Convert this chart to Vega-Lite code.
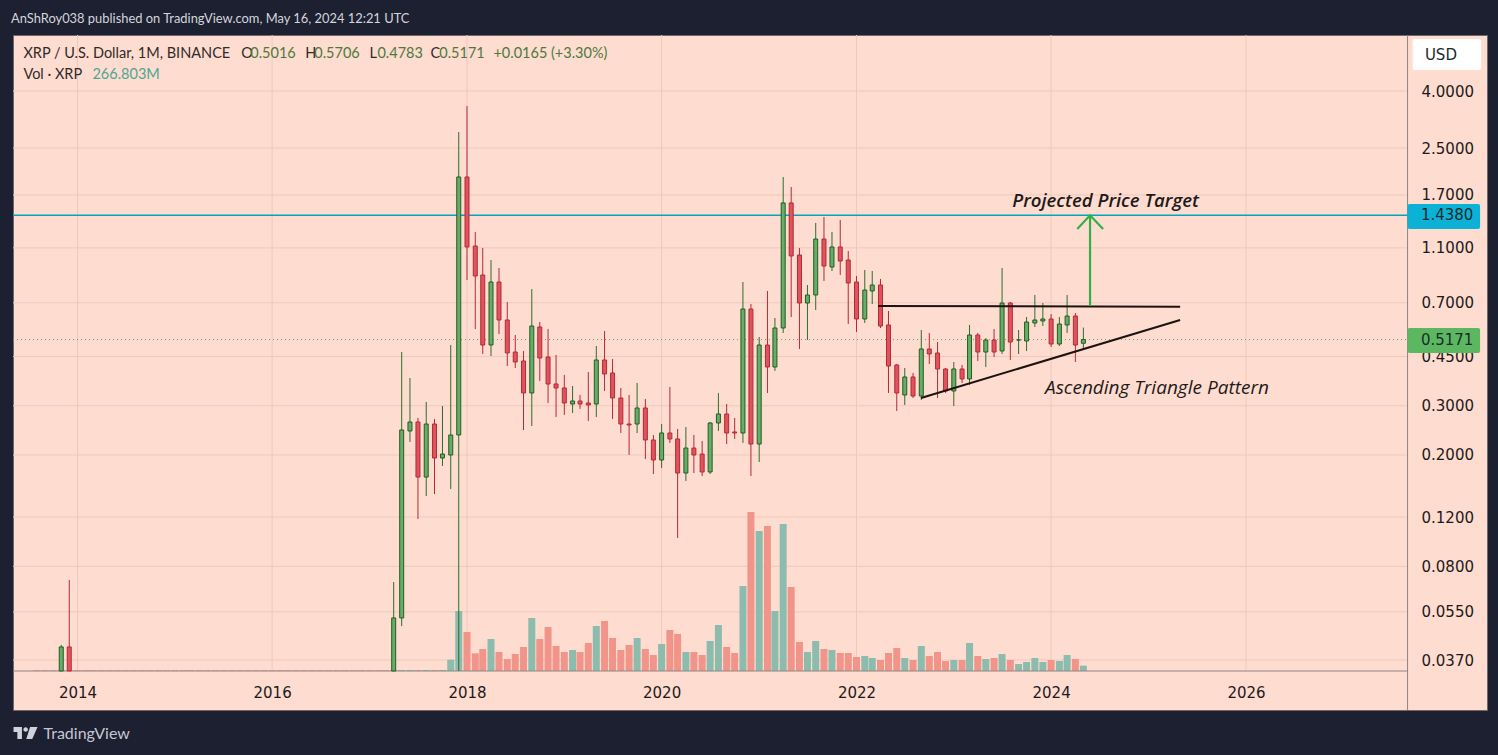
{
  "$schema": "https://vega.github.io/schema/vega-lite/v6.json",
  "autosize": {"type": "none"},
  "width": 1474,
  "height": 675,
  "padding": {"left": 13, "top": 35, "right": 11, "bottom": 45},
  "background": "#1c2030",
  "title": {"text": "AnShRoy038 published on TradingView.com, May 16, 2024 12:21 UTC", "anchor": "start", "frame": "group", "offset": 9, "dx": -2, "font": "Lato", "fontSize": 12.9, "fontWeight": "normal", "color": "#d3d5db"},
  "config": {"view": {"fill": "#fedccf", "stroke": "#6e6a6c"}},
  "datasets": {
    "candles": [
      {"date":"2013-08-01","volume":40},{"date":"2013-09-01","volume":40},{"date":"2013-10-01","volume":40},
      {"date":"2013-11-01","open":0.0338,"high":0.0419,"low":0.0338,"close":0.0412,"volume":50},
      {"date":"2013-12-01","open":0.0412,"high":0.0715,"low":0.0338,"close":0.0338,"volume":50},
      {"date":"2014-01-01","volume":40},{"date":"2014-02-01","volume":40},{"date":"2014-03-01","volume":40},{"date":"2014-04-01","volume":40},{"date":"2014-05-01","volume":40},{"date":"2014-06-01","volume":40},{"date":"2014-07-01","volume":40},{"date":"2014-08-01","volume":40},{"date":"2014-09-01","volume":40},{"date":"2014-10-01","volume":40},{"date":"2014-11-01","volume":40},{"date":"2014-12-01","volume":40},
      {"date":"2015-01-01","volume":40},{"date":"2015-02-01","volume":40},{"date":"2015-03-01","volume":40},{"date":"2015-04-01","volume":40},{"date":"2015-05-01","volume":40},{"date":"2015-06-01","volume":40},{"date":"2015-07-01","volume":40},{"date":"2015-08-01","volume":40},{"date":"2015-09-01","volume":40},{"date":"2015-10-01","volume":40},{"date":"2015-11-01","volume":40},{"date":"2015-12-01","volume":40},
      {"date":"2016-01-01","volume":40},{"date":"2016-02-01","volume":40},{"date":"2016-03-01","volume":40},{"date":"2016-04-01","volume":40},{"date":"2016-05-01","volume":40},{"date":"2016-06-01","volume":40},{"date":"2016-07-01","volume":40},{"date":"2016-08-01","volume":40},{"date":"2016-09-01","volume":40},{"date":"2016-10-01","volume":40},{"date":"2016-11-01","volume":40},{"date":"2016-12-01","volume":40},
      {"date":"2017-01-01","volume":40},{"date":"2017-02-01","volume":40},{"date":"2017-03-01","volume":40},
      {"date":"2017-04-01","open":0.0338,"high":0.0703,"low":0.0338,"close":0.0523,"volume":50},
      {"date":"2017-05-01","open":0.0523,"high":0.4668,"low":0.0489,"close":0.2457,"volume":50},
      {"date":"2017-06-01","open":0.2437,"high":0.3769,"low":0.2226,"close":0.2624,"volume":50},
      {"date":"2017-07-01","open":0.2624,"high":0.2712,"low":0.1181,"close":0.1668,"volume":50},
      {"date":"2017-08-01","open":0.1668,"high":0.3094,"low":0.1427,"close":0.2581,"volume":50},
      {"date":"2017-09-01","open":0.2581,"high":0.269,"low":0.1451,"close":0.1951,"volume":50},
      {"date":"2017-10-01","open":0.1951,"high":0.2993,"low":0.1827,"close":0.2016,"volume":50},
      {"date":"2017-11-01","open":0.2,"high":0.4945,"low":0.1512,"close":0.2358,"volume":565},
      {"date":"2017-12-01","open":0.2358,"high":2.854,"low":0.0338,"close":1.971,"volume":3000},
      {"date":"2018-01-01","open":1.971,"high":3.535,"low":0.8443,"close":1.108,"volume":1950},
      {"date":"2018-02-01","open":1.117,"high":1.254,"low":0.5641,"close":0.8726,"volume":885},
      {"date":"2018-03-01","open":0.8798,"high":1.099,"low":0.4592,"close":0.4945,"volume":1100},
      {"date":"2018-04-01","open":0.4945,"high":0.9953,"low":0.4517,"close":0.8305,"volume":1600},
      {"date":"2018-05-01","open":0.8305,"high":0.932,"low":0.5414,"close":0.6075,"volume":950},
      {"date":"2018-06-01","open":0.6075,"high":0.7045,"low":0.416,"close":0.463,"volume":600},
      {"date":"2018-07-01","open":0.4668,"high":0.5369,"low":0.4092,"close":0.4299,"volume":850},
      {"date":"2018-08-01","open":0.4335,"high":0.4707,"low":0.2457,"close":0.3332,"volume":1200},
      {"date":"2018-09-01","open":0.3332,"high":0.784,"low":0.2539,"close":0.5782,"volume":2650},
      {"date":"2018-10-01","open":0.5735,"high":0.5976,"low":0.3677,"close":0.4443,"volume":1600},
      {"date":"2018-11-01","open":0.448,"high":0.5641,"low":0.3068,"close":0.3588,"volume":2200},
      {"date":"2018-12-01","open":0.3588,"high":0.4555,"low":0.2734,"close":0.3472,"volume":1250},
      {"date":"2019-01-01","open":0.3472,"high":0.3864,"low":0.278,"close":0.3068,"volume":950},
      {"date":"2019-02-01","open":0.3043,"high":0.3529,"low":0.2826,"close":0.3119,"volume":1050},
      {"date":"2019-03-01","open":0.3119,"high":0.3277,"low":0.292,"close":0.3043,"volume":950},
      {"date":"2019-04-01","open":0.3068,"high":0.396,"low":0.2646,"close":0.3018,"volume":1400},
      {"date":"2019-05-01","open":0.3043,"high":0.4905,"low":0.2734,"close":0.4371,"volume":2250},
      {"date":"2019-06-01","open":0.4371,"high":0.5549,"low":0.3387,"close":0.3895,"volume":2500},
      {"date":"2019-07-01","open":0.3928,"high":0.4407,"low":0.269,"close":0.3197,"volume":1650},
      {"date":"2019-08-01","open":0.3197,"high":0.3472,"low":0.2397,"close":0.2581,"volume":1050},
      {"date":"2019-09-01","open":0.2581,"high":0.3277,"low":0.2,"close":0.256,"volume":1300},
      {"date":"2019-10-01","open":0.2581,"high":0.3617,"low":0.2397,"close":0.2945,"volume":1650},
      {"date":"2019-11-01","open":0.2945,"high":0.3171,"low":0.1935,"close":0.2263,"volume":1100},
      {"date":"2019-12-01","open":0.2263,"high":0.2358,"low":0.171,"close":0.1919,"volume":800},
      {"date":"2020-01-01","open":0.1919,"high":0.2581,"low":0.1797,"close":0.2397,"volume":1350},
      {"date":"2020-02-01","open":0.2397,"high":0.35,"low":0.2208,"close":0.2282,"volume":2050},
      {"date":"2020-03-01","open":0.2282,"high":0.2477,"low":0.101,"close":0.1724,"volume":1850},
      {"date":"2020-04-01","open":0.1724,"high":0.2518,"low":0.1615,"close":0.2118,"volume":950},
      {"date":"2020-05-01","open":0.2118,"high":0.2358,"low":0.1724,"close":0.2,"volume":950},
      {"date":"2020-06-01","open":0.2016,"high":0.2244,"low":0.1682,"close":0.1739,"volume":800},
      {"date":"2020-07-01","open":0.1739,"high":0.2624,"low":0.171,"close":0.2603,"volume":1500},
      {"date":"2020-08-01","open":0.2603,"high":0.3332,"low":0.2437,"close":0.2803,"volume":2300},
      {"date":"2020-09-01","open":0.2803,"high":0.3043,"low":0.2189,"close":0.2397,"volume":1200},
      {"date":"2020-10-01","open":0.2417,"high":0.2712,"low":0.2282,"close":0.2397,"volume":900},
      {"date":"2020-11-01","open":0.2397,"high":0.8305,"low":0.2208,"close":0.665,"volume":4250},
      {"date":"2020-12-01","open":0.665,"high":0.693,"low":0.1682,"close":0.2189,"volume":7950},
      {"date":"2021-01-01","open":0.2189,"high":0.5282,"low":0.1888,"close":0.4945,"volume":7000},
      {"date":"2021-02-01","open":0.4945,"high":0.7713,"low":0.3332,"close":0.4126,"volume":7250},
      {"date":"2021-03-01","open":0.4126,"high":0.6175,"low":0.3993,"close":0.5688,"volume":3000},
      {"date":"2021-04-01","open":0.5688,"high":1.971,"low":0.5458,"close":1.592,"volume":7350},
      {"date":"2021-05-01","open":1.592,"high":1.815,"low":0.6226,"close":1.029,"volume":4200},
      {"date":"2021-06-01","open":1.037,"high":1.099,"low":0.4785,"close":0.6987,"volume":1450},
      {"date":"2021-07-01","open":0.6987,"high":0.8103,"low":0.5153,"close":0.7463,"volume":950},
      {"date":"2021-08-01","open":0.7463,"high":1.35,"low":0.6596,"close":1.183,"volume":1500},
      {"date":"2021-09-01","open":1.183,"high":1.418,"low":0.8374,"close":0.9474,"volume":1100},
      {"date":"2021-10-01","open":0.9397,"high":1.254,"low":0.9093,"close":1.108,"volume":1050},
      {"date":"2021-11-01","open":1.108,"high":1.384,"low":0.8798,"close":0.9873,"volume":900},
      {"date":"2021-12-01","open":0.9953,"high":1.072,"low":0.5878,"close":0.8238,"volume":900},
      {"date":"2022-01-01","open":0.8305,"high":0.8726,"low":0.5504,"close":0.6125,"volume":700},
      {"date":"2022-02-01","open":0.6125,"high":0.9167,"low":0.5927,"close":0.7775,"volume":750},
      {"date":"2022-03-01","open":0.7713,"high":0.9093,"low":0.693,"close":0.8103,"volume":650},
      {"date":"2022-04-01","open":0.8103,"high":0.8513,"low":0.5688,"close":0.5782,"volume":550},
      {"date":"2022-05-01","open":0.583,"high":0.6542,"low":0.3332,"close":0.416,"volume":900},
      {"date":"2022-06-01","open":0.4195,"high":0.4229,"low":0.2873,"close":0.3332,"volume":1150},
      {"date":"2022-07-01","open":0.3277,"high":0.4092,"low":0.3018,"close":0.3801,"volume":650},
      {"date":"2022-08-01","open":0.3801,"high":0.3928,"low":0.3197,"close":0.325,"volume":550},
      {"date":"2022-09-01","open":0.325,"high":0.5595,"low":0.3145,"close":0.4785,"volume":1250},
      {"date":"2022-10-01","open":0.4785,"high":0.5458,"low":0.4229,"close":0.4592,"volume":750},
      {"date":"2022-11-01","open":0.463,"high":0.5069,"low":0.3197,"close":0.4059,"volume":950},
      {"date":"2022-12-01","open":0.4059,"high":0.4092,"low":0.3332,"close":0.3387,"volume":500},
      {"date":"2023-01-01","open":0.3387,"high":0.4299,"low":0.2993,"close":0.4059,"volume":550},
      {"date":"2023-02-01","open":0.4059,"high":0.4195,"low":0.3617,"close":0.3739,"volume":550},
      {"date":"2023-03-01","open":0.3739,"high":0.583,"low":0.3558,"close":0.5369,"volume":1400},
      {"date":"2023-04-01","open":0.5369,"high":0.5458,"low":0.4335,"close":0.4668,"volume":750},
      {"date":"2023-05-01","open":0.4668,"high":0.5238,"low":0.4126,"close":0.5153,"volume":600},
      {"date":"2023-06-01","open":0.5153,"high":0.5641,"low":0.448,"close":0.4668,"volume":650},
      {"date":"2023-07-01","open":0.4707,"high":0.932,"low":0.4592,"close":0.6987,"volume":850},
      {"date":"2023-08-01","open":0.6987,"high":0.7045,"low":0.4371,"close":0.5069,"volume":550},
      {"date":"2023-09-01","open":0.5153,"high":0.5595,"low":0.4592,"close":0.5153,"volume":350},
      {"date":"2023-10-01","open":0.5111,"high":0.6226,"low":0.4707,"close":0.5976,"volume":450},
      {"date":"2023-11-01","open":0.5927,"high":0.7463,"low":0.5735,"close":0.6075,"volume":650},
      {"date":"2023-12-01","open":0.6025,"high":0.6987,"low":0.5782,"close":0.6125,"volume":450},
      {"date":"2024-01-01","open":0.6125,"high":0.6383,"low":0.4864,"close":0.4986,"volume":550},
      {"date":"2024-02-01","open":0.4986,"high":0.6226,"low":0.4905,"close":0.5878,"volume":500},
      {"date":"2024-03-01","open":0.583,"high":0.7463,"low":0.5458,"close":0.6278,"volume":800},
      {"date":"2024-04-01","open":0.6278,"high":0.6435,"low":0.4299,"close":0.4945,"volume":600},
      {"date":"2024-05-01","open":0.5016,"high":0.5706,"low":0.4783,"close":0.5171,"volume":266.803}
    ],
    "ticks": [
      {"price":4,"from":"2013-05-04","to":"2027-08-30"},{"price":2.5,"from":"2013-05-04","to":"2027-08-30"},{"price":1.7,"from":"2013-05-04","to":"2027-08-30"},{"price":1.1,"from":"2013-05-04","to":"2027-08-30"},{"price":0.7,"from":"2013-05-04","to":"2027-08-30"},{"price":0.45,"from":"2013-05-04","to":"2027-08-30"},{"price":0.3,"from":"2013-05-04","to":"2027-08-30"},{"price":0.2,"from":"2013-05-04","to":"2027-08-30"},{"price":0.12,"from":"2013-05-04","to":"2027-08-30"},{"price":0.08,"from":"2013-05-04","to":"2027-08-30"},{"price":0.055,"from":"2013-05-04","to":"2027-08-30"},{"price":0.037,"from":"2013-05-04","to":"2027-08-30"}
    ],
    "years": [
      {"date":"2014-01-01","low":0.0338,"high":6.342},{"date":"2016-01-01","low":0.0338,"high":6.342},{"date":"2018-01-01","low":0.0338,"high":6.342},{"date":"2020-01-01","low":0.0338,"high":6.342},{"date":"2022-01-01","low":0.0338,"high":6.342},{"date":"2024-01-01","low":0.0338,"high":6.342},{"date":"2026-01-01","low":0.0338,"high":6.342}
    ],
    "trend": [
      {"series":"resistance","date":"2022-03-23","price":0.682},
      {"series":"resistance","date":"2025-04-29","price":0.678},
      {"series":"support","date":"2022-08-31","price":0.3197},
      {"series":"support","date":"2025-04-29","price":0.6075}
    ],
    "arrow": [
      {"series":"shaft","date":"2024-05-26","price":0.682},
      {"series":"shaft","date":"2024-05-26","price":1.438},
      {"series":"head","date":"2024-04-08","price":1.2845},
      {"series":"head","date":"2024-05-26","price":1.438},
      {"series":"head","date":"2024-07-14","price":1.2845}
    ],
    "target": [
      {"text":"Projected Price Target","date":"2023-08-08","price":1.618}
    ],
    "pattern": [
      {"text":"Ascending Triangle Pattern","date":"2023-12-09","price":0.3472}
    ],
    "legend": [
      {"text":"XRP / U.S. Dollar, 1M, BINANCE","date":"2013-06-12","price":5.425,"role":"name"},
      {"text":"O","date":"2015-09-07","price":5.425,"role":"name"},
      {"text":"0.5016","date":"2015-10-11","price":5.425,"role":"value"},
      {"text":"H","date":"2016-05-04","price":5.425,"role":"name"},
      {"text":"0.5706","date":"2016-06-07","price":5.425,"role":"value"},
      {"text":"L","date":"2016-12-31","price":5.425,"role":"name"},
      {"text":"0.4783","date":"2017-01-30","price":5.425,"role":"value"},
      {"text":"C","date":"2017-08-17","price":5.425,"role":"name"},
      {"text":"0.5171","date":"2017-09-19","price":5.425,"role":"value"},
      {"text":"+0.0165 (+3.30%)","date":"2018-04-10","price":5.425,"role":"value"},
      {"text":"Vol · XRP","date":"2013-06-12","price":4.563,"role":"name"},
      {"text":"266.803M","date":"2014-02-26","price":4.563,"role":"volume"}
    ],
    "tags": [
      {"text":"1.4380","date":"2027-08-30","date2":"2028-05-28","top":1.579,"bottom":1.2845,"price":1.438,"textDate":"2027-10-19","kind":"last"},
      {"text":"0.5171","date":"2027-08-30","date2":"2028-05-28","top":0.5688,"bottom":0.463,"price":0.5171,"textDate":"2027-10-19","kind":"close"},
      {"text":"USD","date":"2027-09-18","date2":"2028-06-01","top":6.136,"bottom":4.755,"price":5.4,"textDate":"2027-11-03","kind":"box"}
    ],
    "levels": [
      {"from":"2013-05-04","to":"2027-08-30","price":1.438}
    ],
    "last": [
      {"from":"2013-05-04","to":"2027-08-30","price":0.5171}
    ],
    "edges": [
      {"from":"2013-05-04","to":"2027-08-30","price":0.0338}
    ],
    "edge": [
      {"date":"2027-08-30","low":0.02452,"high":6.342}
    ],
    "logo": [
      {"date":"2013-06-20","price":0.02029}
    ]
  },
  "encoding": {
    "x": {"field": "date", "type": "temporal", "scale": {"domain": ["2013-05-04", "2028-06-23"], "padding": 0}}
  },
  "layer": [
    {
      "layer": [
        {
          "data": {"name": "ticks"},
          "mark": {"type": "rule", "stroke": "#efc9bc", "strokeWidth": 1},
          "encoding": {
            "x": {
              "field": "from", "type": "temporal",
              "axis": {
                "values": [{"year": 2014}, {"year": 2016}, {"year": 2018}, {"year": 2020}, {"year": 2022}, {"year": 2024}, {"year": 2026}],
                "format": "%Y", "grid": false, "domain": false, "ticks": false, "labelFont": "DejaVu Sans", "labelFontSize": 15, "labelColor": "#1c1a1a", "labelPadding": -18, "labelBaseline": "middle", "labelOverlap": false, "labelFlush": false, "labelBound": false,
                "title": "TradingView", "titleFont": "Lato", "titleFontSize": 16, "titleFontWeight": "normal", "titleColor": "#c4c7d0", "titleAnchor": "start", "titleAlign": "left", "titleBaseline": "middle", "titleX": 30, "titleY": 23
              }
            },
            "x2": {"field": "to"},
            "y": {
              "field": "price", "type": "quantitative",
              "scale": {"type": "log", "domain": [0.02452, 6.342]},
              "axis": {
                "orient": "right", "values": [4, 2.5, 1.7, 1.1, 0.7, 0.45, 0.3, 0.2, 0.12, 0.08, 0.055, 0.037],
                "format": ".4f", "grid": false, "domain": false, "ticks": false, "title": null, "labelFont": "DejaVu Sans", "labelFontSize": 15, "labelColor": "#1c1a1a", "labelPadding": -66, "labelAlign": "left", "labelOverlap": false, "labelBound": false, "labelFlush": false
              }
            }
          }
        },
        {
          "data": {"name": "years"},
          "mark": {"type": "rule", "stroke": "#efc9bc", "strokeWidth": 1},
          "encoding": {
            "y": {"field": "low", "type": "quantitative", "scale": {"type": "log", "domain": [0.02452, 6.342]}},
            "y2": {"field": "high"}
          }
        }
      ]
    },
    {
      "data": {"name": "candles"},
      "mark": {"type": "bar", "size": 7},
      "encoding": {
        "y": {"field": "volume", "type": "quantitative", "scale": {"domain": [-1950, 31800], "nice": false, "zero": false}, "axis": null},
        "fill": {"condition": {"test": "datum.close >= datum.open", "value": "#8cbcae"}, "value": "#f1958b"}
      }
    },
    {
      "encoding": {
        "y": {"field": "price", "type": "quantitative", "scale": {"type": "log", "domain": [0.02452, 6.342]}, "axis": null}
      },
      "layer": [
        {
          "data": {"name": "edges"},
          "mark": {"type": "rule", "stroke": "#8b8683", "strokeWidth": 1},
          "encoding": {"x": {"field": "from", "type": "temporal"}, "x2": {"field": "to"}}
        },
        {
          "data": {"name": "edge"},
          "mark": {"type": "rule", "stroke": "#8b8683", "strokeWidth": 1},
          "encoding": {"y": {"field": "low", "type": "quantitative", "axis": null}, "y2": {"field": "high"}}
        },
        {
          "data": {"name": "levels"},
          "mark": {"type": "rule", "stroke": "#00a5c0", "strokeWidth": 1.4},
          "encoding": {"x": {"field": "from", "type": "temporal"}, "x2": {"field": "to"}}
        },
        {
          "data": {"name": "last"},
          "mark": {"type": "rule", "stroke": "#6aa06a", "strokeWidth": 1, "strokeDash": [1, 3]},
          "encoding": {"x": {"field": "from", "type": "temporal"}, "x2": {"field": "to"}}
        },
        {
          "data": {"name": "candles"},
          "transform": [{"filter": "isValid(datum.open)"}],
          "mark": {"type": "rule", "strokeWidth": 1},
          "encoding": {
            "y": {"field": "low", "type": "quantitative", "axis": null},
            "y2": {"field": "high"},
            "stroke": {"condition": {"test": "datum.close >= datum.open", "value": "#2b6e2c"}, "value": "#b32b35"}
          }
        },
        {
          "data": {"name": "candles"},
          "transform": [{"filter": "isValid(datum.open)"}],
          "mark": {"type": "bar", "size": 4, "strokeWidth": 1},
          "encoding": {
            "y": {"field": "open", "type": "quantitative", "axis": null},
            "y2": {"field": "close"},
            "fill": {"condition": {"test": "datum.close >= datum.open", "value": "#69ab68"}, "value": "#e0525e"},
            "stroke": {"condition": {"test": "datum.close >= datum.open", "value": "#1f5f22"}, "value": "#b32b35"}
          }
        },
        {
          "data": {"name": "trend"},
          "mark": {"type": "line", "color": "#1b1311", "strokeWidth": 2},
          "encoding": {"detail": {"field": "series"}}
        },
        {
          "data": {"name": "arrow"},
          "mark": {"type": "line", "color": "#30b04a", "strokeWidth": 2.2},
          "encoding": {"detail": {"field": "series"}}
        },
        {
          "data": {"name": "target"},
          "mark": {"type": "text", "align": "left", "baseline": "middle", "font": "Open Sans", "fontSize": 18.6, "fontStyle": "italic", "fontWeight": 600, "color": "#1d1a1a"},
          "encoding": {"text": {"field": "text"}}
        },
        {
          "data": {"name": "pattern"},
          "mark": {"type": "text", "align": "left", "baseline": "middle", "font": "Open Sans", "fontSize": 19, "fontStyle": "italic", "fontWeight": 500, "color": "#1d1a1a"},
          "encoding": {"text": {"field": "text"}}
        },
        {
          "data": {"name": "legend"},
          "mark": {"type": "text", "align": "left", "baseline": "middle", "font": "Lato", "fontSize": 14.5},
          "encoding": {
            "text": {"field": "text"},
            "color": {"field": "role", "type": "nominal", "legend": null, "scale": {"domain": ["name", "value", "volume"], "range": ["#2f2b2b", "#4c7a3c", "#4fa594"]}}
          }
        },
        {
          "data": {"name": "tags"},
          "mark": {"type": "rect", "cornerRadius": 2},
          "encoding": {
            "x2": {"field": "date2"},
            "y": {"field": "top", "type": "quantitative", "axis": null},
            "y2": {"field": "bottom"},
            "fill": {"field": "kind", "type": "nominal", "legend": null, "scale": {"domain": ["last", "close", "box"], "range": ["#0cb2d6", "#5cb860", "#ffffff"]}}
          }
        },
        {
          "data": {"name": "tags"},
          "mark": {"type": "text", "align": "left", "baseline": "middle", "font": "DejaVu Sans", "fontSize": 15, "color": "#1c2a2c"},
          "encoding": {
            "x": {"field": "textDate", "type": "temporal"},
            "text": {"field": "text"}
          }
        },
        {
          "data": {"name": "logo"},
          "mark": {"type": "point", "filled": true, "opacity": 1, "size": 576, "color": "#cfd2da", "shape": "M-1,-0.5 H-0.3 V0.5 H-0.68 V-0.08 H-1 Z M0.38,-0.5 H1 L0.56,0.5 H0.06 Z M-0.18,-0.3 A0.19,0.19 0 1 0 0.2,-0.3 A0.19,0.19 0 1 0 -0.18,-0.3 Z"}
        }
      ]
    }
  ],
  "resolve": {"scale": {"y": "independent"}}
}
